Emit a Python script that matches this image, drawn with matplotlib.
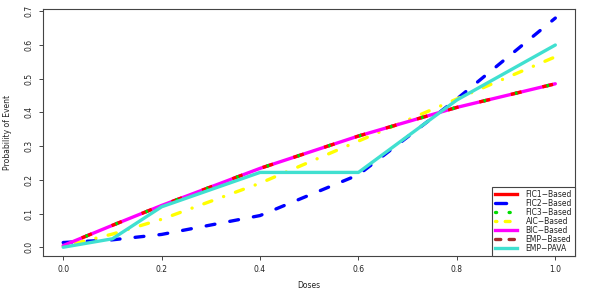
import numpy as np
import matplotlib
matplotlib.use("Agg")
import matplotlib.pyplot as plt
from matplotlib.lines import Line2D

plt.rcParams['font.family'] = ['DejaVu Sans']
plt.rcParams['lines.scale_dashes'] = False

# values
doses = [0.0, 0.1, 0.2, 0.4, 0.6, 0.8, 1.0]
fic1 = [0.005, 0.065, 0.124, 0.234, 0.330, 0.415, 0.485]
fic2 = [0.014, 0.022, 0.038, 0.094, 0.215, 0.440, 0.680]
fic3 = fic1
aic = [0.003, 0.039, 0.083, 0.190, 0.315, 0.440, 0.565]
bic = fic1
emp_based = fic1
emp_pava = [0.000, 0.025, 0.120, 0.222, 0.222, 0.437, 0.600]

labels = ["FIC1\u2212Based", "FIC2\u2212Based", "FIC3\u2212Based", "AIC\u2212Based",
          "BIC\u2212Based", "EMP\u2212Based", "EMP\u2212PAVA"]

fs = 5.5
lw = 2.4
grey = '#444444'

fig = plt.figure(figsize=(5.98, 2.99), dpi=100)
ax = fig.add_axes([43.5 / 598, 1 - 256 / 299, 531.5 / 598, 246.7 / 299])

ax.plot(doses, fic2, color='#0000ff', lw=lw, linestyle=(0, (6.4, 10.9)),
        dash_capstyle='round')
ax.plot(doses, aic, color='#ffff00', lw=lw, linestyle=(0, (0.1, 9.0, 6.1, 9.0)),
        dash_capstyle='round')
ax.plot(doses, bic, color='#ff00ff', lw=lw, solid_capstyle='round')
ax.plot(doses, emp_based, color='#ff0000', lw=lw, linestyle=(8.9, (7.9, 15.4)),
        dash_capstyle='butt')
ax.plot(doses, fic3, color='#00dd00', lw=lw, linestyle=(5.8, (1.8, 21.5)),
        dash_capstyle='butt')
ax.plot(doses, emp_pava, color='#40e0d0', lw=lw, solid_capstyle='round')

ax.set_xlim(-0.04, 1.04)
ax.set_ylim(-0.026, 0.706)
ax.set_xticks([0.0, 0.2, 0.4, 0.6, 0.8, 1.0])
ax.set_yticks([0.0, 0.1, 0.2, 0.3, 0.4, 0.5, 0.6, 0.7])
ax.xaxis.set_major_formatter(matplotlib.ticker.FormatStrFormatter('%.1f'))
ax.yaxis.set_major_formatter(matplotlib.ticker.FormatStrFormatter('%.1f'))
ax.tick_params(axis='both', labelsize=fs, length=3.2, width=0.7, color=grey,
               labelcolor='#222222')
ax.tick_params(axis='x', pad=3.6)
ax.tick_params(axis='y', pad=4.0)
for lab in ax.get_yticklabels():
    lab.set_rotation(90)
    lab.set_va('center')
for sp in ax.spines.values():
    sp.set_color(grey)
    sp.set_linewidth(0.8)

ax.set_xlabel("Doses", fontsize=fs, color='#222222')
ax.xaxis.set_label_coords(0.5, -29 / 246.7)
ax.xaxis.label.set_va('center')
ax.set_ylabel("Probability of Event", fontsize=fs, color='#222222')
ax.yaxis.set_label_coords((8 - 43.5) / 531.5, 0.5)
ax.yaxis.label.set_va('center')

handles = [
    Line2D([], [], color='#ff0000', lw=lw),
    Line2D([], [], color='#0000ff', lw=lw, linestyle=(0, (8.0, 9.2)), dash_capstyle='round'),
    Line2D([], [], color='#00dd00', lw=lw, linestyle=(0, (0.8, 9.0)), dash_capstyle='round'),
    Line2D([], [], color='#ffff00', lw=lw, linestyle=(2.5, (3.5, 6.0)), dash_capstyle='round'),
    Line2D([], [], color='#ff00ff', lw=lw),
    Line2D([], [], color='#a52a2a', lw=lw, linestyle=(0, (3.8, 6.0)), dash_capstyle='round'),
    Line2D([], [], color='#40e0d0', lw=lw),
]
leg = ax.legend(handles, labels, loc='lower right', bbox_to_anchor=(1, 0),
                borderaxespad=0, fontsize=fs, fancybox=False, framealpha=1,
                edgecolor=grey, handlelength=2.8, handletextpad=1.15,
                labelspacing=0.0, borderpad=0.4)
leg.get_frame().set_linewidth(0.8)
for t in leg.get_texts():
    t.set_color('#222222')

fig.savefig("out.png", dpi=100)
